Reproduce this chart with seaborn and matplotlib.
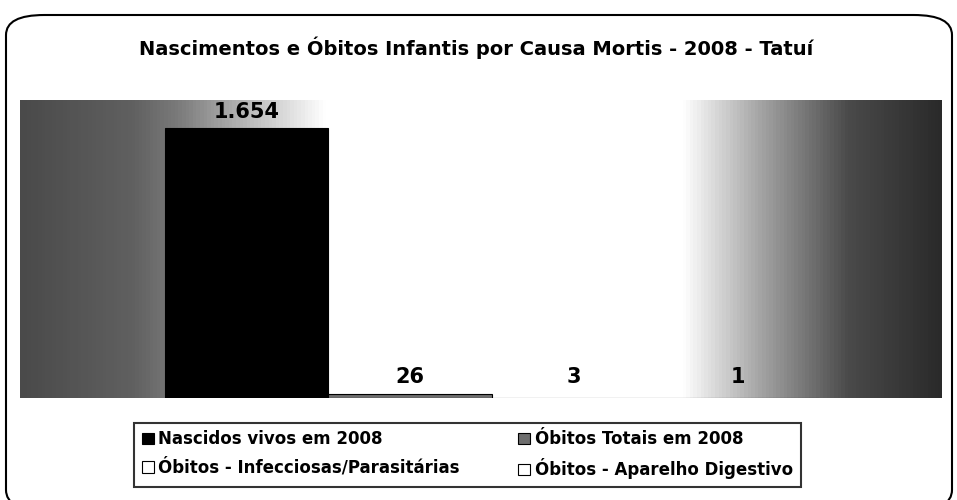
import numpy as np
import pandas as pd
import matplotlib
matplotlib.use('Agg')
import matplotlib.pyplot as plt
from matplotlib.patches import FancyBboxPatch, Patch
from matplotlib.colors import LinearSegmentedColormap
from matplotlib import font_manager
import seaborn as sns

# dados
series = ['Nascidos vivos em 2008', 'Óbitos Totais em 2008',
          'Óbitos - Infecciosas/Parasitárias', 'Óbitos - Aparelho Digestivo']
valores = [1654, 26, 3, 1]
rotulos = ['1.654', '26', '3', '1']
categoria = ['2008'] * len(series)

df = pd.DataFrame({'cat': categoria, 'serie': series, 'valor': valores})

sns.set_style('white')
nomes = {f.name for f in font_manager.fontManager.ttflist}
estreita = 'Liberation Sans Narrow' in nomes
fonte = 'Liberation Sans Narrow' if estreita else 'DejaVu Sans'
plt.rcParams['font.family'] = [fonte, 'DejaVu Sans']
plt.rcParams['text.color'] = 'black'
k = 1.2 if estreita else 1.0

fig = plt.figure(figsize=(9.57, 5.0), dpi=100)
ax = fig.add_axes([20 / 957, 1 - 398 / 500, 922 / 957, 298 / 500])

# fundo em degradê (cinza -> branco -> cinza escuro)
cmap = LinearSegmentedColormap.from_list('fundo', [
    (0.0, '#4a4a4a'), (0.12, '#606060'), (0.17, '#7a7a7a'), (0.33, '#ffffff'),
    (0.72, '#ffffff'), (0.8, '#a8a8a8'), (0.9, '#4a4a4a'), (1.0, '#2a2a2a')])
grad = np.linspace(0, 1, 256).reshape(1, -1)
ax.imshow(grad, aspect='auto', cmap=cmap, extent=[0, 1, 0, 1],
          transform=ax.transAxes, zorder=0)

cores = ['#000000', '#6e6e6e', '#ffffff', '#ffffff']
sns.barplot(data=df, x='cat', y='valor', hue='serie', hue_order=series,
            palette=cores, width=0.71, saturation=1, ax=ax,
            edgecolor='black', linewidth=0.8, legend=False, zorder=2)

ax.set_ylim(0, 1826)
ax.set_xlim(-0.512, 0.488)
ax.set_xlabel('')
ax.set_ylabel('')
ax.set_xticks([])
ax.set_yticks([])
for s in ax.spines.values():
    s.set_visible(False)

for bar, txt in zip(ax.patches, rotulos):
    cx = bar.get_x() + bar.get_width() / 2
    h = bar.get_height()
    y = h + 40 if h > 100 else 70
    ax.text(cx, y, txt, ha='center', va='bottom', fontsize=15 * k,
            fontweight='bold', color='black', zorder=3)

fig.text(0.497, 0.905, 'Nascimentos e Óbitos Infantis por Causa Mortis - 2008 - Tatuí',
         ha='center', va='center', fontsize=14 * k, fontweight='bold', color='black')

# legenda (preenchida por linhas, como no original)
ordem = [0, 2, 1, 3]
handles = [Patch(facecolor=cores[i], edgecolor='black', linewidth=0.8) for i in ordem]
labels = [series[i] for i in ordem]
leg = fig.legend(handles, labels, loc='lower left', ncol=2, mode='expand',
                 bbox_to_anchor=(126 / 957, 5 / 500, 683 / 957, 68 / 500),
                 frameon=True, prop={'weight': 'bold', 'size': 12 * k},
                 handlelength=0.7, handleheight=0.7, handletextpad=0.3,
                 labelspacing=0.6, borderpad=0.45, fancybox=False)
leg.get_frame().set_edgecolor('black')
leg.get_frame().set_linewidth(1.5)

# moldura arredondada
moldura = FancyBboxPatch((6 / 957, -0.02), 946 / 957, 0.99,
                         boxstyle='round,pad=0,rounding_size=0.04',
                         transform=fig.transFigure, fill=False,
                         edgecolor='black', linewidth=1.5)
fig.patches.append(moldura)

fig.savefig('out.png', dpi=100)
